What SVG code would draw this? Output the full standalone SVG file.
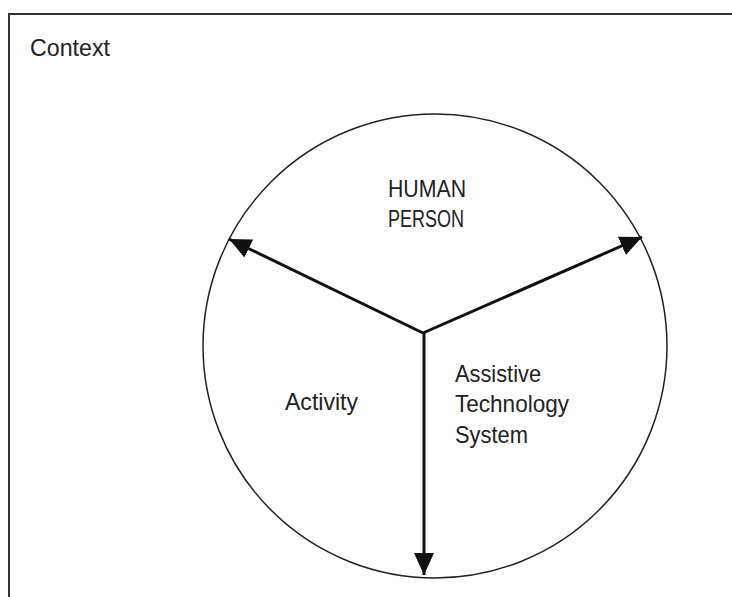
<svg xmlns="http://www.w3.org/2000/svg" width="732" height="597" viewBox="0 0 732 597">
  <style>
    .lbl { font-family: "Liberation Sans", Arial, sans-serif; font-size: 24px; fill: #222; }
    .frame { fill: none; stroke: #333; stroke-width: 2; }
    .circ { fill: none; stroke: #222; stroke-width: 1.5; }
    .arr { fill: none; stroke: #111; stroke-width: 3; }
  </style>
  <defs>
    <marker id="ah" markerUnits="userSpaceOnUse" markerWidth="22" markerHeight="20" viewBox="0 0 22 20" refX="22" refY="10" orient="auto">
      <path d="M0,0 L22,10 L0,20 Z" fill="#111"/>
    </marker>
  </defs>
  <rect width="732" height="597" fill="#fff"/>
  <g id="context">
    <path class="frame" d="M9,597 V14 H732"/>
    <text class="lbl" x="30" y="56" textLength="80" lengthAdjust="spacingAndGlyphs">Context</text>
  </g>
  <g id="circle">
    <circle class="circ" cx="435" cy="346" r="232"/>
  </g>
  <g id="human-person">
    <text class="lbl" x="388" y="197" textLength="78" lengthAdjust="spacingAndGlyphs">HUMAN</text>
    <text class="lbl" x="388" y="227" textLength="76" lengthAdjust="spacingAndGlyphs">PERSON</text>
  </g>
  <g id="activity">
    <text class="lbl" x="285" y="410" textLength="73" lengthAdjust="spacingAndGlyphs">Activity</text>
  </g>
  <g id="ats">
    <text class="lbl" x="455" y="382" textLength="86" lengthAdjust="spacingAndGlyphs">Assistive</text>
    <text class="lbl" x="455" y="412" textLength="114" lengthAdjust="spacingAndGlyphs">Technology</text>
    <text class="lbl" x="455" y="443" textLength="73" lengthAdjust="spacingAndGlyphs">System</text>
  </g>
  <g id="connectors">
    <line class="arr" x1="423" y1="333" x2="229" y2="239" marker-end="url(#ah)"/>
    <line class="arr" x1="423" y1="333" x2="642" y2="237" marker-end="url(#ah)"/>
    <line class="arr" x1="424" y1="333" x2="424" y2="575" marker-end="url(#ah)"/>
  </g>
</svg>
